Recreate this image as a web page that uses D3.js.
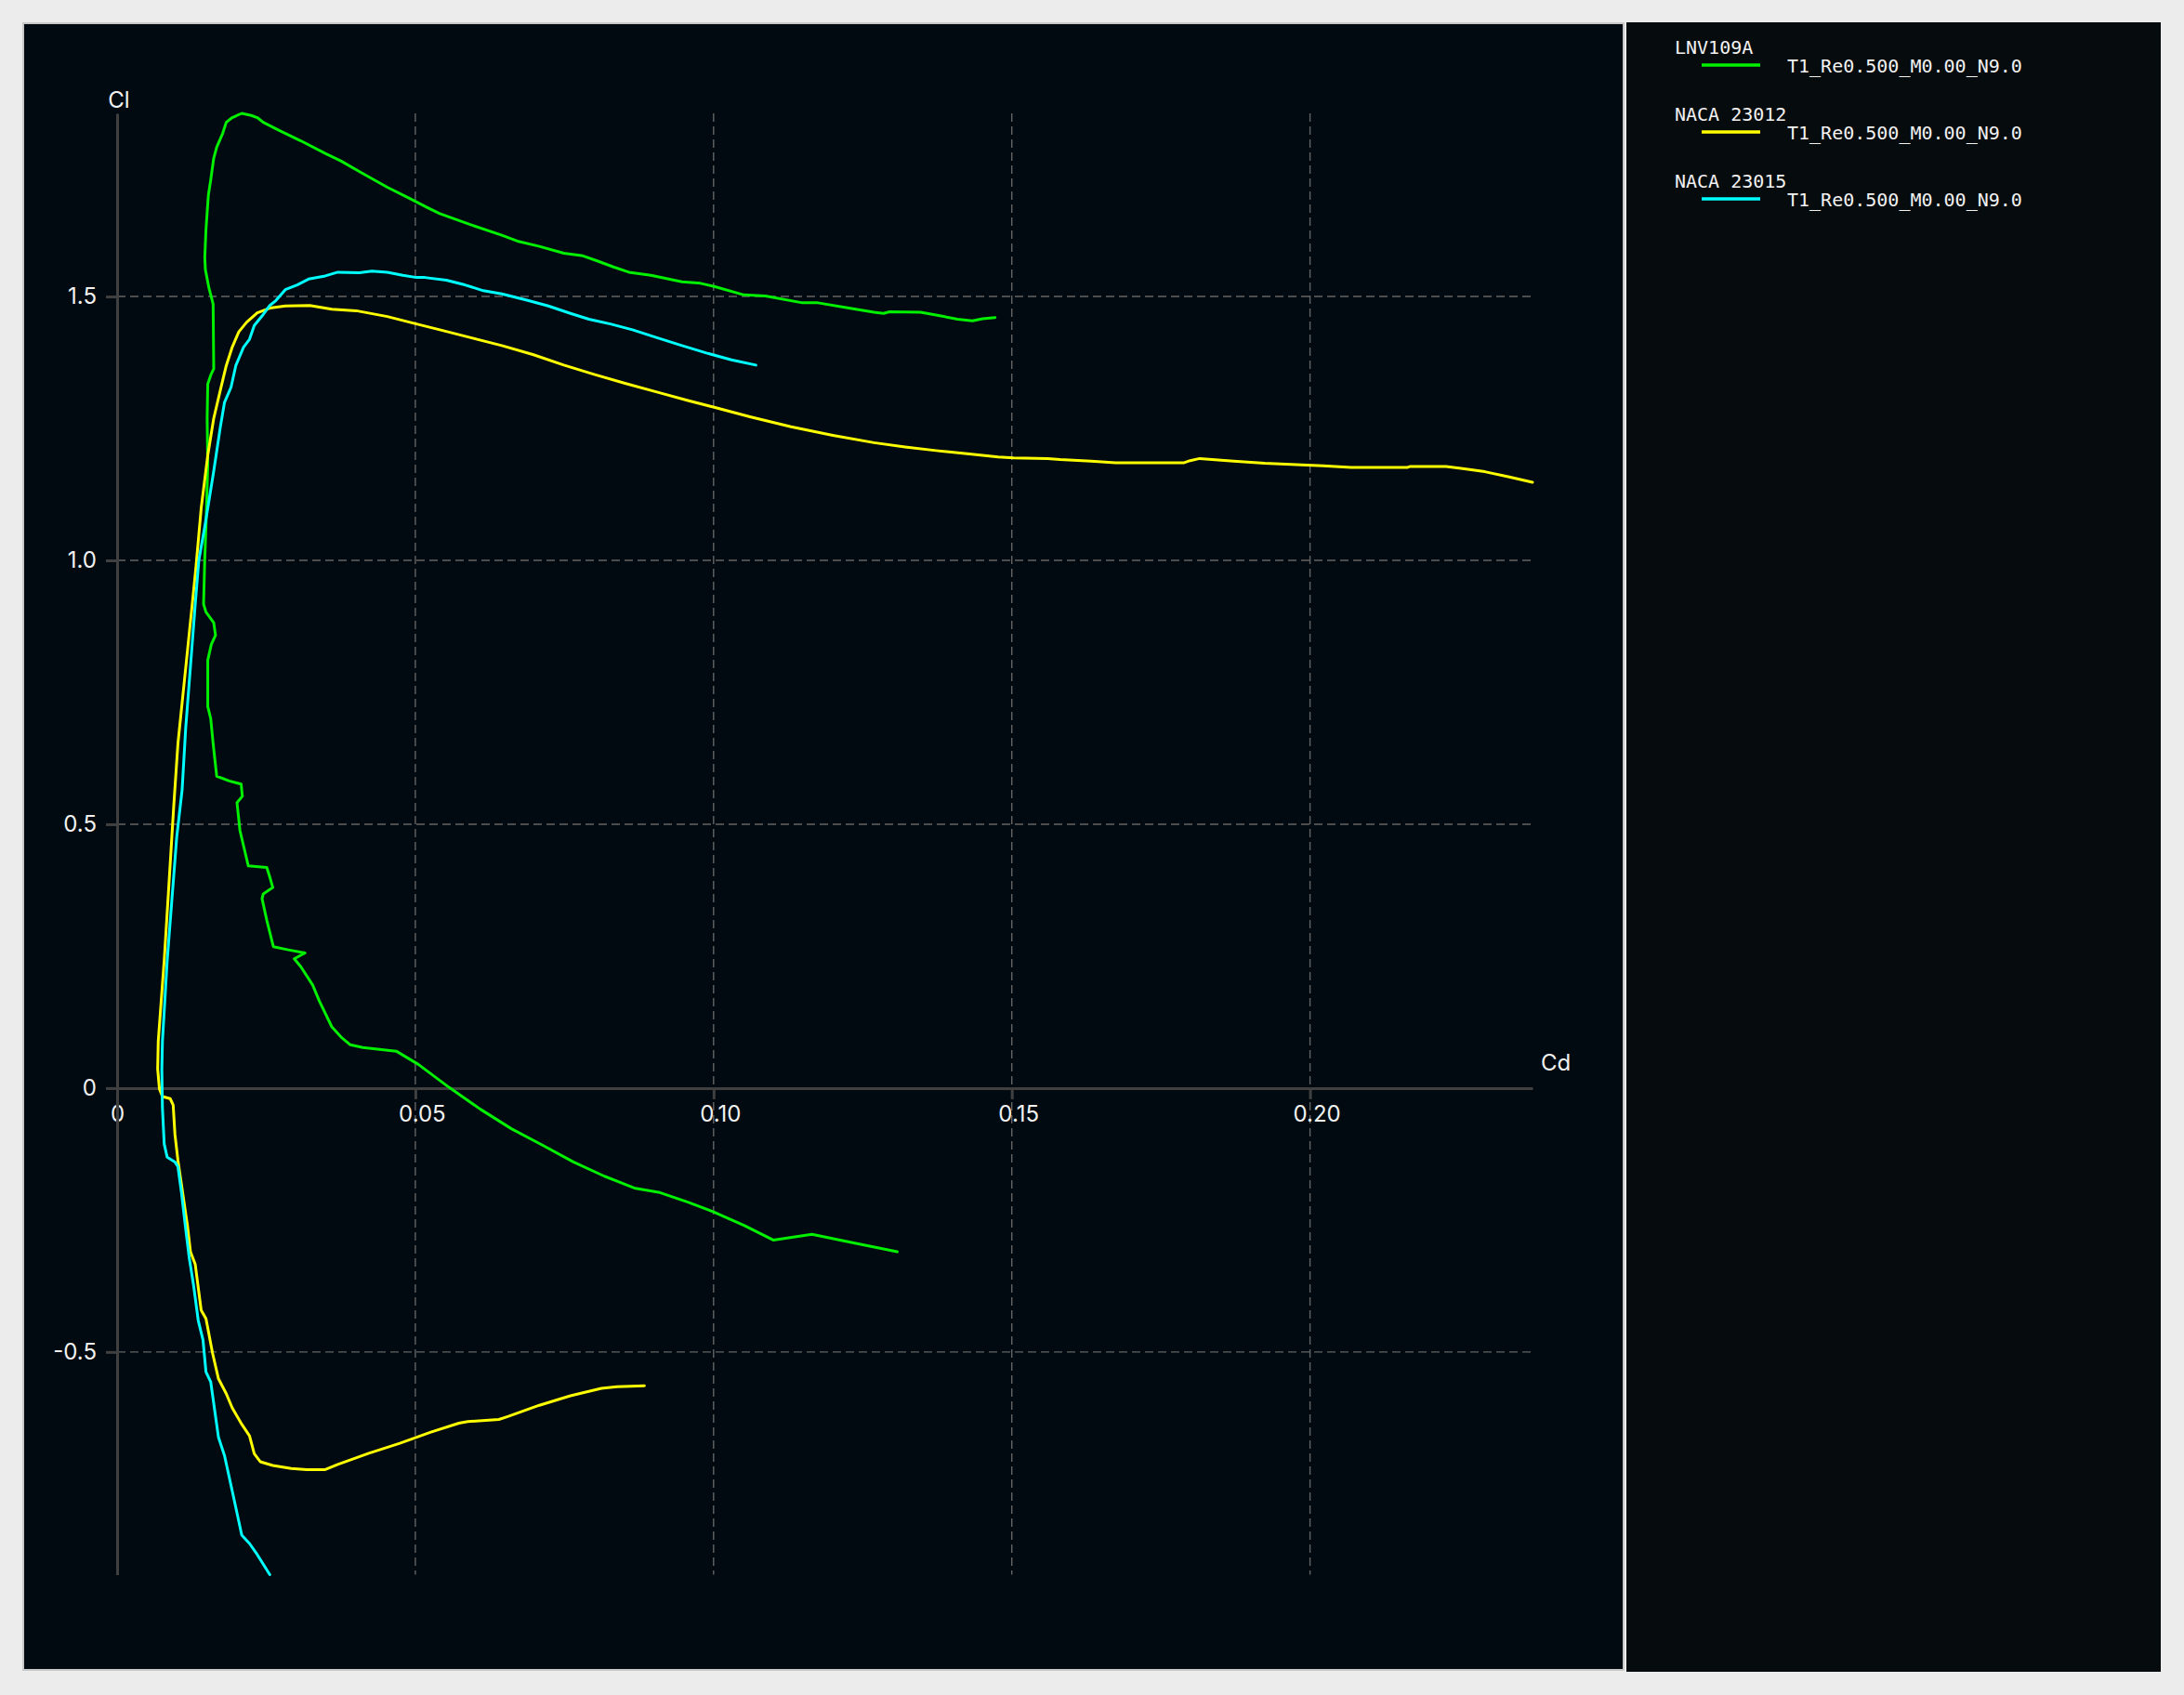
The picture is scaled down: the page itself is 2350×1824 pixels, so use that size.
<!DOCTYPE html>
<html>
<head>
<meta charset="utf-8">
<script src="https://cdn.jsdelivr.net/npm/d3@7/dist/d3.min.js"></script>
<style>
  html, body { margin: 0; padding: 0; background: #ececec; }
  svg { display: block; }
</style>
</head>
<body>
<svg id="chart" width="2350" height="1824"></svg>
<script>
// ---------------- DATA ----------------
const seriesNames = ["LNV109A", "NACA 23012", "NACA 23015"];
const seriesLabels = ["T1_Re0.500_M0.00_N9.0", "T1_Re0.500_M0.00_N9.0", "T1_Re0.500_M0.00_N9.0"];
const seriesColors = ["#00f000", "#ffff00", "#00ffff"];

const xTickValues = [0, 0.05, 0.10, 0.15, 0.20];
const xTickLabels = ["0", "0.05", "0.10", "0.15", "0.20"];
const yTickValues = [-0.5, 0, 0.5, 1.0, 1.5];
const yTickLabels = ["-0.5", "0", "0.5", "1.0", "1.5"];
const xAxisTitle = "Cd";
const yAxisTitle = "Cl";

// [Cd, Cl] pairs, in order of increasing angle of attack
const lnv109a = [
  [0.1308,-0.310],[0.1233,-0.293],[0.1165,-0.277],[0.1100,-0.288],[0.1051,-0.260],
  [0.0999,-0.234],[0.0957,-0.216],[0.0910,-0.198],[0.0869,-0.190],[0.0817,-0.167],
  [0.0765,-0.140],[0.0713,-0.108],[0.0661,-0.077],[0.0609,-0.040],[0.0557,0.001],
  [0.0505,0.045],[0.0468,0.070],[0.0412,0.077],[0.0391,0.082],[0.0377,0.095],
  [0.0360,0.116],[0.0339,0.165],[0.0328,0.195],[0.0308,0.230],[0.0297,0.245],
  [0.0315,0.256],[0.0287,0.262],[0.0262,0.268],[0.0251,0.318],[0.0243,0.359],
  [0.0245,0.368],[0.0261,0.380],[0.0256,0.400],[0.0251,0.418],[0.0220,0.421],
  [0.0212,0.459],[0.0206,0.488],[0.0201,0.541],[0.0210,0.553],[0.0208,0.576],
  [0.0188,0.582],[0.0167,0.591],[0.0161,0.653],[0.0157,0.700],[0.0152,0.723],
  [0.0152,0.811],[0.0158,0.841],[0.0165,0.858],[0.0162,0.882],[0.0149,0.902],
  [0.0145,0.917],[0.0147,1.005],[0.0149,1.064],[0.0152,1.181],[0.0151,1.269],
  [0.0152,1.334],[0.0157,1.351],[0.0162,1.363],[0.0161,1.486],[0.0154,1.516],
  [0.0148,1.551],[0.0147,1.574],[0.0149,1.627],[0.0153,1.692],[0.0157,1.721],
  [0.0162,1.762],[0.0167,1.783],[0.0177,1.809],[0.0183,1.830],[0.0193,1.839],
  [0.0209,1.847],[0.0225,1.843],[0.0235,1.839],[0.0245,1.830],[0.0271,1.815],
  [0.0308,1.795],[0.0349,1.771],[0.0375,1.757],[0.0412,1.733],[0.0453,1.707],
  [0.0490,1.686],[0.0521,1.668],[0.0541,1.657],[0.0593,1.636],[0.0645,1.616],
  [0.0671,1.605],[0.0708,1.595],[0.0749,1.582],[0.0781,1.577],[0.0806,1.567],
  [0.0832,1.556],[0.0858,1.546],[0.0895,1.540],[0.0947,1.528],[0.0978,1.525],
  [0.1001,1.519],[0.1051,1.503],[0.1087,1.501],[0.1149,1.488],[0.1175,1.488],
  [0.1227,1.478],[0.1269,1.470],[0.1285,1.468],[0.1295,1.471],[0.1347,1.470],
  [0.1373,1.465],[0.1409,1.457],[0.1434,1.454],[0.1451,1.458],[0.1472,1.460]
];

const naca23012 = [
  [0.0884,-0.564],[0.0838,-0.566],[0.0812,-0.569],[0.0760,-0.583],[0.0708,-0.601],
  [0.0656,-0.622],[0.0640,-0.628],[0.0588,-0.632],[0.0573,-0.635],[0.0526,-0.652],
  [0.0474,-0.673],[0.0422,-0.692],[0.0370,-0.713],[0.0349,-0.723],[0.0318,-0.723],
  [0.0292,-0.721],[0.0261,-0.715],[0.0240,-0.708],[0.0230,-0.693],[0.0222,-0.659],
  [0.0209,-0.637],[0.0193,-0.606],[0.0183,-0.579],[0.0170,-0.551],[0.0160,-0.502],
  [0.0149,-0.437],[0.0141,-0.421],[0.0131,-0.334],[0.0123,-0.310],[0.0118,-0.261],
  [0.0110,-0.199],[0.0102,-0.137],[0.0097,-0.088],[0.0094,-0.032],[0.0089,-0.020],
  [0.0076,-0.016],[0.0071,-0.002],[0.0068,0.036],[0.0069,0.089],[0.0079,0.242],
  [0.0087,0.388],[0.0095,0.535],[0.0102,0.653],[0.0110,0.741],[0.0118,0.829],
  [0.0126,0.917],[0.0132,0.985],[0.0141,1.099],[0.0152,1.199],[0.0162,1.269],
  [0.0173,1.322],[0.0183,1.369],[0.0193,1.404],[0.0204,1.433],[0.0217,1.451],
  [0.0235,1.469],[0.0256,1.478],[0.0282,1.482],[0.0323,1.483],[0.0360,1.476],
  [0.0401,1.473],[0.0453,1.462],[0.0502,1.448],[0.0541,1.437],[0.0593,1.422],
  [0.0645,1.407],[0.0697,1.390],[0.0749,1.370],[0.0801,1.352],[0.0853,1.335],
  [0.0905,1.319],[0.0957,1.303],[0.1001,1.290],[0.1061,1.272],[0.1130,1.253],
  [0.1200,1.237],[0.1269,1.223],[0.1321,1.215],[0.1373,1.208],[0.1425,1.202],
  [0.1477,1.196],[0.1503,1.194],[0.1560,1.193],[0.1581,1.191],[0.1633,1.188],
  [0.1674,1.185],[0.1789,1.185],[0.1799,1.189],[0.1815,1.193],[0.1841,1.1905],
  [0.1872,1.188],[0.1924,1.184],[0.1986,1.181],[0.2022,1.179],[0.2069,1.176],
  [0.2163,1.176],[0.2168,1.178],[0.2228,1.178],[0.2256,1.174],[0.2293,1.168],
  [0.2334,1.158],[0.2373,1.148]
];

const naca23015 = [
  [0.0256,-0.922],[0.0235,-0.884],[0.0222,-0.863],[0.0209,-0.847],[0.0196,-0.779],
  [0.0180,-0.696],[0.0170,-0.662],[0.0157,-0.557],[0.0149,-0.538],[0.0144,-0.477],
  [0.0136,-0.440],[0.0128,-0.372],[0.0121,-0.322],[0.0115,-0.267],[0.0108,-0.199],
  [0.0102,-0.149],[0.0097,-0.140],[0.0084,-0.131],[0.0079,-0.106],[0.0076,-0.038],
  [0.0075,0.036],[0.0076,0.089],[0.0084,0.242],[0.0092,0.359],[0.0100,0.476],
  [0.0109,0.565],[0.0115,0.682],[0.0123,0.799],[0.0131,0.917],[0.0137,1.000],
  [0.0147,1.064],[0.0162,1.169],[0.0173,1.252],[0.0180,1.299],[0.0191,1.328],
  [0.0199,1.369],[0.0212,1.404],[0.0222,1.419],[0.0230,1.445],[0.0243,1.463],
  [0.0256,1.483],[0.0266,1.492],[0.0282,1.513],[0.0302,1.522],[0.0321,1.533],
  [0.0349,1.539],[0.0370,1.546],[0.0406,1.545],[0.0427,1.548],[0.0453,1.546],
  [0.0479,1.540],[0.0502,1.536],[0.0516,1.536],[0.0552,1.531],[0.0583,1.522],
  [0.0614,1.511],[0.0645,1.505],[0.0687,1.493],[0.0723,1.482],[0.0760,1.468],
  [0.0791,1.457],[0.0827,1.448],[0.0864,1.437],[0.0905,1.422],[0.0947,1.407],
  [0.0988,1.393],[0.1030,1.380],[0.1071,1.370]
];

const seriesData = [lnv109a, naca23012, naca23015];

// ---------------- LAYOUT ----------------
const svg = d3.select("#chart");
const plotLeft = 126, plotRight = 1649, plotTop = 122, plotBottom = 1694.5;

// panels
svg.append("rect").attr("x", 25).attr("y", 25).attr("width", 1722).attr("height", 1772)
  .attr("fill", "#010a10").attr("stroke", "#c8c8c8").attr("stroke-width", 2);
svg.append("rect").attr("x", 1750).attr("y", 24).attr("width", 575).attr("height", 1775)
  .attr("fill", "#060b0e");

const allPts = seriesData.flat();
const x = d3.scaleLinear()
  .domain([0, d3.max(allPts, d => d[0])])
  .range([plotLeft, plotRight]);
const y = d3.scaleLinear()
  .domain(d3.extent(allPts, d => d[1]))
  .range([plotBottom, plotTop]);

const fontSans = "Inter, 'Helvetica Neue', Arial, sans-serif";

// grid
const grid = svg.append("g");
grid.selectAll("line.v").data(xTickValues.filter(v => v !== 0)).join("line")
  .attr("x1", d => x(d)).attr("x2", d => x(d))
  .attr("y1", plotTop).attr("y2", plotBottom)
  .attr("stroke", "#646464").attr("stroke-width", 1.4).attr("stroke-dasharray", "9,5");
grid.selectAll("line.h").data(yTickValues.filter(v => v !== 0)).join("line")
  .attr("x1", plotLeft).attr("x2", plotRight)
  .attr("y1", d => y(d)).attr("y2", d => y(d))
  .attr("stroke", "#646464").attr("stroke-width", 1.4).attr("stroke-dasharray", "9,5");

// axes
const axisColor = "#404040";
const xAxis = d3.axisBottom(x).tickValues(xTickValues)
  .tickFormat((d, i) => xTickLabels[i]).tickSize(12).tickSizeOuter(0).tickPadding(7);
const yAxis = d3.axisLeft(y).tickValues(yTickValues)
  .tickFormat((d, i) => yTickLabels[i]).tickSize(12).tickSizeOuter(0).tickPadding(10);

const gx = svg.append("g").attr("transform", `translate(0,${y(0)})`).call(xAxis);
const gy = svg.append("g").attr("transform", `translate(${x(0)},0)`).call(yAxis);
[gx, gy].forEach(g => {
  g.select(".domain").attr("stroke", axisColor).attr("stroke-width", 3);
  g.selectAll(".tick line").attr("stroke", axisColor).attr("stroke-width", 3);
  g.selectAll(".tick text").attr("fill", "#f2f2f2")
    .style("font-family", fontSans).style("font-size", "24px");
});
gx.selectAll(".tick text").attr("dx", (d, i) => i === 0 ? 0 : 7);

svg.append("text").attr("x", x(0) + 2).attr("y", 116).attr("text-anchor", "middle")
  .attr("fill", "#f2f2f2").style("font-family", fontSans).style("font-size", "24px")
  .text(yAxisTitle);
svg.append("text").attr("x", plotRight + 9).attr("y", y(0) - 19)
  .attr("fill", "#f2f2f2").style("font-family", fontSans).style("font-size", "24px")
  .text(xAxisTitle);

// curves
const line = d3.line().x(d => x(d[0])).y(d => y(d[1])).curve(d3.curveLinear);
svg.append("g").selectAll("path").data(seriesData).join("path")
  .attr("d", line)
  .attr("fill", "none")
  .attr("stroke", (d, i) => seriesColors[i])
  .attr("stroke-width", 3)
  .attr("stroke-linejoin", "round")
  .attr("stroke-linecap", "round");

// legend
const fontMono = "'DejaVu Sans Mono', 'Liberation Mono', monospace";
const leg = svg.append("g").selectAll("g").data(seriesNames).join("g")
  .attr("transform", (d, i) => `translate(0,${i * 72})`);
leg.append("text").attr("x", 1802).attr("y", 57.5).attr("fill", "#f2f2f2")
  .style("font-family", fontMono).style("font-size", "20px").text(d => d);
leg.append("line").attr("x1", 1831).attr("x2", 1894).attr("y1", 70).attr("y2", 70)
  .attr("stroke", (d, i) => seriesColors[i]).attr("stroke-width", 3.3);
leg.append("text").attr("x", 1923).attr("y", 78).attr("fill", "#f2f2f2")
  .style("font-family", fontMono).style("font-size", "20px").text((d, i) => seriesLabels[i]);
</script>
</body>
</html>
